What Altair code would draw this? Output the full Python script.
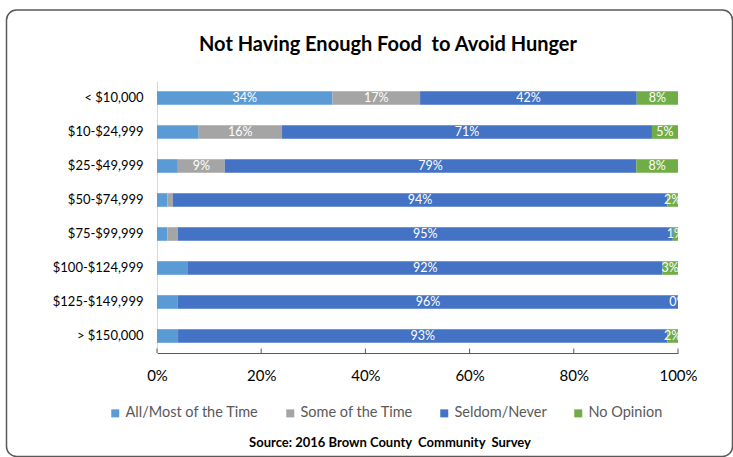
import altair as alt
import pandas as pd

# Household income brackets, top to bottom
income = [
    "< $10,000",
    "$10-$24,999",
    "$25-$49,999",
    "$50-$74,999",
    "$75-$99,999",
    "$100-$124,999",
    "$125-$149,999",
    "> $150,000",
]

responses = ["All/Most of the Time", "Some of the Time", "Seldom/Never", "No Opinion"]
colors = ["#5B9BD5", "#A5A5A5", "#4472C4", "#70AD47"]

# Percent of respondents per answer (each row drawn as a 100% stacked bar)
all_most = [34, 8, 4, 2, 2, 6, 4, 4]
some_time = [17, 16, 9, 1, 2, 0, 0, 0]
seldom_never = [42, 71, 79, 94, 95, 92, 96, 93]
no_opinion = [8, 5, 8, 2, 1, 3, 0, 2]

# Which segments carry a data label
label_all_most = [True, False, False, False, False, False, False, False]
label_some_time = [True, True, True, False, False, False, False, False]
label_seldom_never = [True] * 8
label_no_opinion = [True] * 8

x_ticks = [0, 0.2, 0.4, 0.6, 0.8, 1.0]

series = [all_most, some_time, seldom_never, no_opinion]
shows = [label_all_most, label_some_time, label_seldom_never, label_no_opinion]

rows = []
for k, (resp, vals, shw) in enumerate(zip(responses, series, shows)):
    for i, inc in enumerate(income):
        rows.append({"income": inc, "response": resp, "order": k,
                     "value": vals[i], "show": shw[i]})
df = pd.DataFrame(rows)

FONT = "Lato"
W, H = 521, 272

base = alt.Chart(df).transform_stack(
    stack="value",
    groupby=["income"],
    as_=["v0", "v1"],
    offset="normalize",
    sort=[alt.SortField("order", order="ascending")],
)

y_enc = alt.Y(
    "income:N",
    sort=income,
    scale=alt.Scale(paddingInner=0.6, paddingOuter=0.3),
    axis=alt.Axis(
        title=None, ticks=False, domainColor="#D9D9D9", domainWidth=1,
        labelFont=FONT, labelFontSize=13, labelColor="#000000", labelPadding=14,
    ),
)

bars = base.mark_bar().encode(
    x=alt.X(
        "v0:Q",
        scale=alt.Scale(domain=[0, 1], nice=False),
        axis=alt.Axis(
            title=None, values=x_ticks, format=".0%", ticks=False, grid=False,
            labelFlush=False, domainColor="#595959", domainWidth=1,
            labelFont=FONT, labelFontSize=15, labelColor="#000000", labelPadding=15,
        ),
    ),
    x2="v1:Q",
    y=y_enc,
    color=alt.Color(
        "response:N",
        scale=alt.Scale(domain=responses, range=colors),
        legend=alt.Legend(
            title=None, orient="none", direction="horizontal", columns=4,
            legendX=-49, legendY=325, padding=0,
            symbolType="square", symbolSize=64, symbolStrokeWidth=0,
            labelFont=FONT, labelFontSize=14.5, labelColor="#595959",
            labelOffset=3, columnPadding=24,
        ),
    ),
    order=alt.Order("order:Q"),
)

labels = base.transform_filter(
    alt.datum.show
).transform_calculate(
    mid="(datum.v0 + datum.v1) / 2",
    txt="datum.value + '%'",
).mark_text(
    font=FONT, fontSize=12.5, color="white", align="center", baseline="middle"
).encode(
    x="mid:Q",
    y=alt.Y("income:N", sort=income),
    text="txt:N",
)

# Inward tick marks on the percentage axis
tick_df = pd.DataFrame({"t": x_ticks})
ticks = alt.Chart(tick_df).mark_rule(color="#595959", strokeWidth=1).encode(
    x="t:Q",
    y=alt.value(H - 4.5),
    y2=alt.value(H),
)

source = alt.Chart(pd.DataFrame({"s": ["Source: 2016 Brown County\u00a0 Community\u00a0 Survey"]})).mark_text(
    font=FONT, fontSize=13, fontWeight="bold", color="#000000",
    align="center", baseline="middle",
).encode(
    x=alt.value(233),
    y=alt.value(362),
    text="s:N",
)

title = alt.Chart(pd.DataFrame({"s": ["Not Having Enough Food\u00a0 to Avoid Hunger"]})).mark_text(
    font=FONT, fontSize=20, fontWeight="bold", color="#000000",
    align="center", baseline="middle",
).encode(
    x=alt.value(231),
    y=alt.value(-36),
    text="s:N",
)

frame = alt.Chart(pd.DataFrame({"f": [0]})).mark_rect(
    fillOpacity=0, stroke="#595959", strokeWidth=1.5, cornerRadius=10,
).encode(
    x=alt.value(-150.5),
    x2=alt.value(575.5),
    y=alt.value(-71),
    y2=alt.value(375.5),
)

chart = alt.layer(frame, bars, labels, ticks, source, title).properties(
    width=W,
    height=H,
    autosize=alt.AutoSizeParams(type="none"),
    padding={"left": 157, "top": 81, "right": 55, "bottom": 104},
    background="white",
).configure_view(strokeWidth=0)

chart.save("out.html", embed_options={"renderer": "svg", "actions": False})
